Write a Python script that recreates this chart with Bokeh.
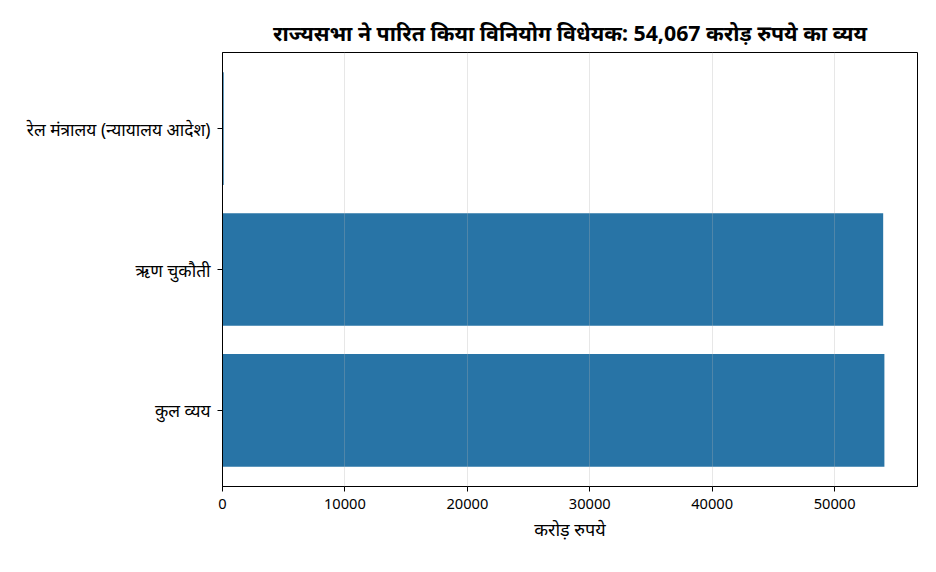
from bokeh.plotting import figure
from bokeh.models import ColumnDataSource, Range1d, FixedTicker
from bokeh.embed import file_html
from bokeh.resources import INLINE

# Data (crore rupees)
categories = ["कुल व्यय", "ऋण चुकौती", "रेल मंत्रालय (न्यायालय आदेश)"]
amounts = [54067, 53967, 100]
x_ticks = [0, 10000, 20000, 30000, 40000, 50000]

FONT = "'Noto Sans', 'Noto Sans Devanagari', 'Noto Sans Devanagari UI', sans-serif"
positions = list(range(len(categories)))
source = ColumnDataSource(dict(y=positions, right=amounts, name=categories))

p = figure(width=920, height=556, output_backend="svg", toolbar_location=None,
           title="राज्यसभा ने पारित किया विनियोग विधेयक: 54,067 करोड़ रुपये का व्यय",
           x_range=Range1d(0, max(amounts) * 1.05), y_range=Range1d(-0.54, 2.54),
           min_border_left=222, min_border_right=3, min_border_top=52, min_border_bottom=70)

p.hbar(y="y", left=0, right="right", height=0.8, source=source,
       fill_color="#2874a6", line_color=None)

# Title
p.title.align = "center"
p.title.text_font = FONT
p.title.text_font_size = "16pt"
p.title.text_font_style = "bold"
p.title.text_color = "black"
p.title.offset = 0
p.title.standoff = 11

# Axes
p.xaxis.ticker = FixedTicker(ticks=x_ticks)
p.yaxis.ticker = FixedTicker(ticks=positions)
p.yaxis.major_label_overrides = {i: c for i, c in enumerate(categories)}
p.xaxis.axis_label = "करोड़ रुपये"
for ax in (p.xaxis, p.yaxis):
    ax.major_label_text_font = FONT
    ax.major_label_text_color = "black"
    ax.axis_label_text_font = FONT
    ax.axis_label_text_font_size = "13.5pt"
    ax.axis_label_text_font_style = "normal"
    ax.axis_label_text_color = "black"
    ax.minor_tick_line_color = None
    ax.major_tick_out = 5
    ax.major_tick_in = 0
    ax.major_tick_line_color = "black"
    ax.axis_line_color = "black"
p.xaxis.major_label_text_font_size = "11pt"
p.xaxis.major_label_standoff = 7
p.yaxis.major_label_text_font_size = "13pt"
p.yaxis.major_label_standoff = 7
p.xaxis.axis_label_standoff = 5

# Grid over bars, x only
p.ygrid.grid_line_color = None
p.xgrid.level = "overlay"
p.xgrid.grid_line_color = "#b0b0b0"
p.xgrid.grid_line_alpha = 0.3
p.xgrid.grid_line_width = 1

p.outline_line_color = "black"
p.outline_line_alpha = 1

open("out.html", "w").write(file_html(p, INLINE))
